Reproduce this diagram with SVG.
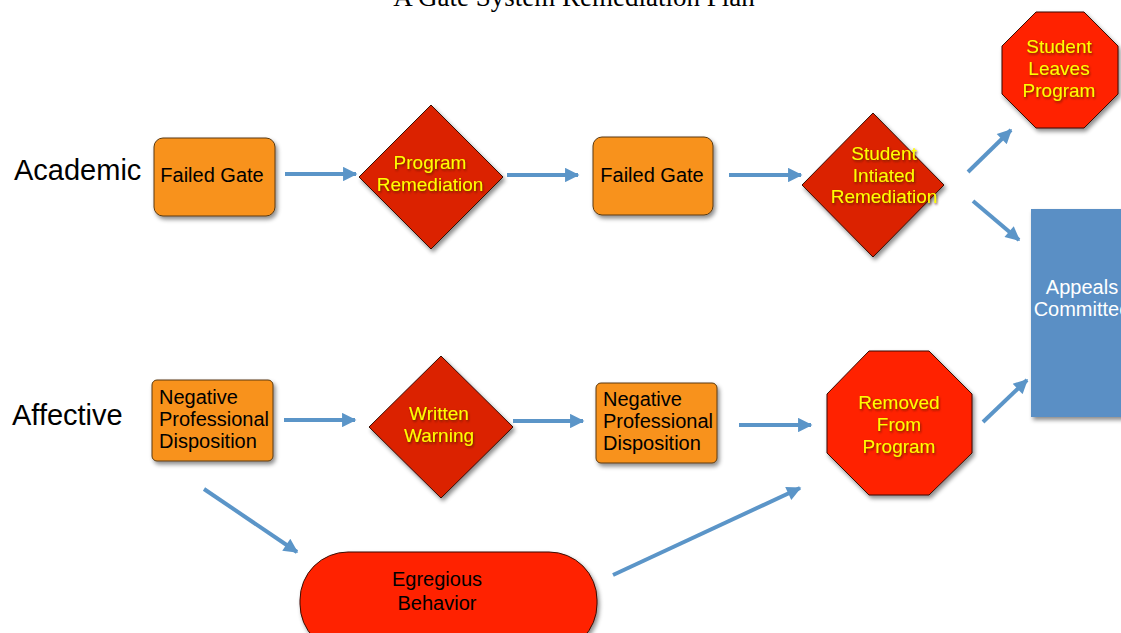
<svg xmlns="http://www.w3.org/2000/svg" width="1121" height="633" viewBox="0 0 1121 633">
<defs>
<filter id="sh" x="-20%" y="-20%" width="150%" height="150%">
<feDropShadow dx="2" dy="3" stdDeviation="2" flood-color="#000" flood-opacity="0.45"/>
</filter>
<filter id="tsh" x="-20%" y="-30%" width="140%" height="170%">
<feDropShadow dx="1" dy="1.5" stdDeviation="1" flood-color="#5a1a00" flood-opacity="0.8"/>
</filter>
<marker id="ah" viewBox="0 0 10 10" refX="9" refY="5" markerWidth="4" markerHeight="3.6" orient="auto" markerUnits="strokeWidth">
<path d="M0,0 L10,5 L0,10 Z" fill="#5b95c8"/>
</marker>
</defs>
<style>
.box{fill:#f8921e;stroke:#5a3a10;stroke-width:1;filter:url(#sh)}
.dia{fill:#db2000;stroke:#3a0a00;stroke-width:1;filter:url(#sh)}
.oct{fill:#ff2400;stroke:#3a0a00;stroke-width:1;filter:url(#sh)}
.blue{fill:#5a8fc5;filter:url(#sh)}
.bt{font-family:"Liberation Sans",Arial,sans-serif;font-size:20px;fill:#000}
.yt{font-family:"Liberation Sans",Arial,sans-serif;font-size:19px;fill:#ffff00;text-anchor:middle;filter:url(#tsh)}
.wt{font-family:"Liberation Sans",Arial,sans-serif;font-size:20px;fill:#fff;text-anchor:middle}
.lab{font-family:"Liberation Sans",Arial,sans-serif;font-size:29px;fill:#000}
.con line{stroke:#5b95c8;stroke-width:4;marker-end:url(#ah)}
</style>
<text x="574" y="6" font-family="Liberation Serif,Times New Roman,serif" font-size="27" text-anchor="middle" fill="#000">A Gate System Remediation Plan</text>
<text class="lab" x="14" y="180">Academic</text>
<text class="lab" x="12" y="425">Affective</text>
<g class="con">
<line x1="285" y1="174" x2="356" y2="174"/>
<line x1="507" y1="175" x2="578" y2="175"/>
<line x1="729" y1="175" x2="801" y2="175"/>
<line x1="968" y1="172" x2="1011" y2="130"/>
<line x1="973" y1="201" x2="1019" y2="240"/>
<line x1="284" y1="420" x2="355" y2="420"/>
<line x1="513" y1="421" x2="583" y2="421"/>
<line x1="739" y1="425" x2="811" y2="425"/>
<line x1="983" y1="422" x2="1027" y2="380"/>
<line x1="204" y1="489" x2="297" y2="552"/>
<line x1="613" y1="575" x2="800" y2="488"/>
</g>
<g id="appeals">
<rect class="blue" x="1031" y="209" width="100" height="208"/>
<text class="wt" x="1082" y="294">Appeals</text>
<text class="wt" x="1082" y="316">Committee</text>
</g>
<g id="failed-gate-1">
<rect class="box" x="154" y="138" width="121" height="78" rx="9"/>
<text class="bt" x="212" y="182" text-anchor="middle">Failed Gate</text>
</g>
<g id="program-remediation">
<polygon class="dia" points="431,105 503,177 431,249 359,177"/>
<text class="yt" x="430" y="169">Program</text>
<text class="yt" x="430" y="191">Remediation</text>
</g>
<g id="failed-gate-2">
<rect class="box" x="593" y="137" width="120" height="78" rx="9"/>
<text class="bt" x="652" y="182" text-anchor="middle">Failed Gate</text>
</g>
<g id="student-initiated">
<polygon class="dia" points="873,113 944,185 873,257 802,185"/>
<text class="yt" x="884" y="160">Student</text>
<text class="yt" x="884" y="182">Intiated</text>
<text class="yt" x="884" y="203">Remediation</text>
</g>
<g id="student-leaves">
<polygon class="oct" points="1036,12 1084,12 1118,46 1118,94 1084,128 1036,128 1002,94 1002,46"/>
<text class="yt" x="1059" y="53">Student</text>
<text class="yt" x="1059" y="75">Leaves</text>
<text class="yt" x="1059" y="97">Program</text>
</g>
<g id="npd-1">
<rect class="box" x="152" y="380" width="121" height="81" rx="5"/>
<text class="bt" x="159" y="404">Negative</text>
<text class="bt" x="159" y="426">Professional</text>
<text class="bt" x="159" y="448">Disposition</text>
</g>
<g id="written-warning">
<polygon class="dia" points="441,356 513,427 441,498 369,427"/>
<text class="yt" x="439" y="420">Written</text>
<text class="yt" x="439" y="442">Warning</text>
</g>
<g id="npd-2">
<rect class="box" x="596" y="383" width="121" height="80" rx="5"/>
<text class="bt" x="603" y="406">Negative</text>
<text class="bt" x="603" y="428">Professional</text>
<text class="bt" x="603" y="450">Disposition</text>
</g>
<g id="removed">
<polygon class="oct" points="869,351 929,351 972,394 972,453 929,495 869,495 827,453 827,394"/>
<text class="yt" x="899" y="409">Removed</text>
<text class="yt" x="899" y="431">From</text>
<text class="yt" x="899" y="453">Program</text>
</g>
<g id="egregious">
<rect x="300" y="552" width="297" height="100" rx="48" fill="#ff2400" stroke="#3a0a00" stroke-width="1" filter="url(#sh)"/>
<text class="bt" x="437" y="586" text-anchor="middle">Egregious</text>
<text class="bt" x="437" y="610" text-anchor="middle">Behavior</text>
</g>
</svg>
